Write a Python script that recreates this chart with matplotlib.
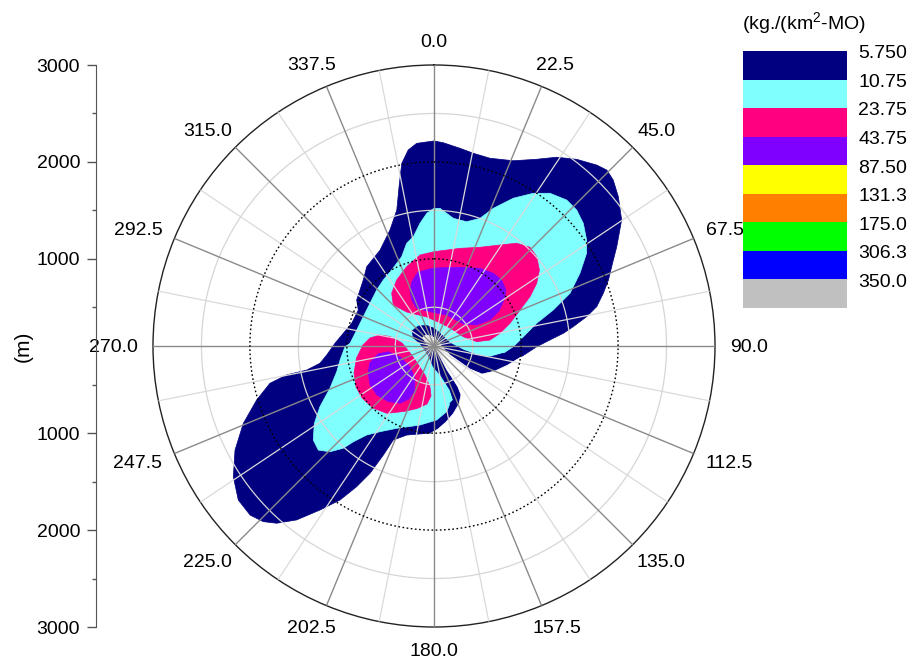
import numpy as np
import matplotlib
matplotlib.use("Agg")
import matplotlib.pyplot as plt

plt.rcParams['font.family'] = ['Liberation Sans', 'DejaVu Sans']
plt.rcParams['mathtext.fontset'] = 'custom'
plt.rcParams['mathtext.rm'] = 'Liberation Sans'
plt.rcParams['mathtext.it'] = 'Liberation Sans:italic'

# ---------------- data (bearing in degrees clockwise from N, distance in m) ----------------
navy_deg = [0, 2.6, 7.5, 11.5, 16.6, 23.2, 28.8, 33.0, 37.4, 42.0, 44.5, 47.2, 51.0, 56.1, 61.5,
            64.4, 69.3, 72.7, 76.4, 79.1, 82.1, 84.4, 87.0, 90.4, 97.2, 104.4, 112.3, 120.3, 122.6,
            121.6, 119.4, 135, 146, 151.2, 151.6, 150.1, 149.7, 151.1, 156.7, 164.4, 171, 177.2, 182,
            197, 203.4, 204.9, 206.7, 208.8, 211.4, 214.8, 218.3, 221.6, 224.2, 227.4, 231.8, 236.9,
            242.4, 247.9, 253.1, 257.2, 258.9, 259.3, 261.4, 265.2, 271.6, 278, 285.4, 295.4, 300.8,
            313, 319.7, 330.6, 339.2, 344.7, 348, 350, 352.5, 355.1]
navy_m = [2216, 2200, 2158, 2130, 2122, 2180, 2299, 2423, 2525, 2612, 2645, 2621, 2548, 2433, 2246,
          2152, 2024, 1930, 1828, 1705, 1551, 1441, 1299, 1160, 1005, 888, 780, 674, 541,
          415, 290, 100, 150, 265, 382, 493, 590, 677, 752, 829, 894, 958, 999,
          1061, 1157, 1340, 1571, 1756, 1962, 2161, 2387, 2546, 2628, 2678, 2670, 2572,
          2417, 2224, 2012, 1836, 1648, 1436, 1290, 1211, 1122, 1045, 981, 965, 1029,
          1098, 1173, 1235, 1380, 1555, 1817, 2014, 2140, 2199]

cyan_deg = [0, 2.5, 8.6, 14.7, 19.8, 23.3, 28.2, 33.0, 37.2, 42.3, 46.4, 50.6, 55.2, 58.7, 63.5,
            68.8, 73.2, 77.5, 84.1, 90.5, 96, 101.1, 101.9, 97.8, 79.4, 120, 165.9, 160, 160.3,
            164.4, 169.1, 177.9, 190, 204.4, 212.2, 217.1, 220.1, 221.6, 224.5, 228, 232.1, 237.1,
            242, 247.9, 255.2, 261.5, 269.6, 271.8, 281.7, 292.5, 303.7, 314.3, 322.5, 330.9,
            340.1, 345.1, 349.3, 353.5, 356.9]
cyan_m = [1521, 1522, 1433, 1426, 1500, 1647, 1830, 1979, 2079, 2136, 2134, 2094, 2018, 1943, 1783,
          1606, 1386, 1186, 1027, 918, 819, 689, 550, 405, 268, 100, 427, 583, 692,
          714, 790, 864, 928, 1033, 1145, 1252, 1392, 1511, 1630, 1706, 1679, 1571,
          1433, 1259, 1138, 1080, 1018, 967, 914, 890, 894, 927, 959, 998,
          1080, 1197, 1248, 1375, 1472]

pink_ne_deg = [0, 14.9, 25, 33.2, 38.8, 44.2, 49, 54.2, 58.6, 62.8, 67.3, 73.4, 79.1, 83.9, 84.2,
               72.4, 41.6, 14.6, 345.9, 321.2, 315.2, 321.3, 330.5, 341, 351.3]
pink_ne_m = [1073, 1143, 1224, 1346, 1461, 1521, 1505, 1441, 1342, 1214, 1062, 918, 794, 681, 543,
             417, 349, 346, 409, 550, 696, 798, 882, 966, 1050]

purple_ne_deg = [0, 18.3, 30.6, 39.2, 45.7, 52.1, 56.7, 61.7, 65.1, 63.8, 53.1, 22.3, 353.3, 335.3,
                 334.1, 336.8, 341.1, 347.8]
purple_ne_m = [905, 956, 1032, 1068, 1075, 1041, 965, 862, 737, 591, 478, 446, 456, 528,
               627, 729, 802, 881]

pink_sw_deg = [281.5, 282.2, 275.4, 250.8, 221.6, 197.2, 185.6, 183.4, 186.9, 195.2, 204.6, 214.9,
               224.5, 234.2, 242.3, 251.4, 261.2, 270.8, 277.1]
pink_sw_m = [669, 564, 431, 352, 349, 414, 525, 617, 703, 769, 843, 947,
             998, 1016, 1009, 971, 909, 833, 766]

purple_sw_deg = [261.9, 262.9, 252.5, 229.2, 209.9, 203.4, 205.3, 210.7, 219.7, 229.3, 238.6, 247.7, 255]
purple_sw_m = [684, 579, 467, 427, 493, 606, 705, 787, 844, 876, 873, 833, 789]

# navy band around the low-deposition gap next to the source
band_deg = [96, 101.1, 101.9, 97.8, 79.4, 16.7, 357.8, 340.4, 321.9, 304.3, 291.3, 280.9, 212.3,
            181.9, 165.9, 160, 160.3, 164.4, 165, 130, 100]
band_m = [819, 689, 550, 405, 268, 254, 286, 325, 362, 375, 327, 247, 210,
          314, 427, 583, 692, 714, 900, 900, 900]

# region below the lowest level (white gap)
gap_deg = [95, 119.4, 121.6, 122.6, 120.3, 112.3, 104.4, 97.2, 97, 130, 160, 175, 182, 177.2, 171,
           164.4, 156.7, 151.1, 149.7, 150.1, 151.6, 151.2, 146, 166, 260, 295.5, 307.6, 324,
           342.2, 7.4, 63]
gap_m = [180, 290, 415, 541, 674, 780, 888, 1005, 1300, 1300, 1050, 1100, 999, 958, 894,
         829, 752, 677, 590, 493, 382, 265, 150, 142, 142, 203, 247, 240,
         211, 180, 161]

level_labels = ['5.750', '10.75', '23.75', '43.75', '87.50', '131.3', '175.0', '306.3', '350.0']
level_colors = ['#000080', '#80FFFF', '#FF0080', '#8000FF', '#FFFF00', '#FF8000', '#00FF00',
                '#0000FF', '#C0C0C0']
theta_ticks = np.arange(0, 360, 22.5)
theta_minor = np.arange(11.25, 360, 22.5)
r_major = [1000, 2000, 3000]
r_minor = [500, 1500, 2500]
R_MIN, R_MAX = 100, 3000

# ---------------- figure ----------------
W, H = 921, 660
cx, cy, R = 434, 346, 281
fig = plt.figure(figsize=(W / 100, H / 100), dpi=100)
ax = fig.add_axes([(cx - R) / W, (H - cy - R) / H, 2 * R / W, 2 * R / H], projection='polar')
ax.set_theta_zero_location('N')
ax.set_theta_direction(-1)

def region(deg, m, color, z):
    ax.fill(np.radians(deg), m, facecolor=color, edgecolor=color, lw=0.5, zorder=z)

region(navy_deg, navy_m, level_colors[0], 1.0)
region(cyan_deg, cyan_m, level_colors[1], 1.1)
region(pink_ne_deg, pink_ne_m, level_colors[2], 1.2)
region(pink_sw_deg, pink_sw_m, level_colors[2], 1.2)
region(purple_ne_deg, purple_ne_m, level_colors[3], 1.3)
region(purple_sw_deg, purple_sw_m, level_colors[3], 1.3)
region(band_deg, band_m, level_colors[0], 1.4)
region(gap_deg, gap_m, 'white', 1.5)

# grid
for a in theta_minor:
    ax.plot([np.radians(a)] * 2, [R_MIN, R_MAX], color='#dadada', lw=0.9, zorder=3)
for a in theta_ticks:
    ax.plot([np.radians(a)] * 2, [R_MIN, R_MAX], color='#8a8a8a', lw=1.0, zorder=4)
circ = np.linspace(0, 2 * np.pi, 721)
for rr in r_minor:
    ax.plot(circ, np.full_like(circ, rr), color='#d6d6d6', lw=0.9, zorder=3)
for rr in r_major[:-1]:
    ax.plot(circ, np.full_like(circ, rr), color='black', lw=1.0, ls=(0, (1.2, 1.8)), zorder=4)

ax.set_ylim(R_MIN, R_MAX)
ax.set_yticks([])
ax.set_xticks(np.radians(theta_ticks))
ax.set_xticklabels([])
ax.set_xticks(np.radians(theta_minor), minor=True)
ax.tick_params(axis='x', which='major', length=0)
ax.tick_params(axis='x', which='minor', direction='in', length=5, width=1, color='#333333')
ax.grid(False)
ax.spines['polar'].set_color('#222222')
ax.spines['polar'].set_linewidth(1.0)

# angle labels: placed just outside the rim, offset by half their size along the direction
renderer = fig.canvas.get_renderer()
pad = 15
for a in theta_ticks:
    t = np.radians(a)
    s, c = np.sin(t), np.cos(t)
    txt = ax.annotate(f'{a:.1f}', xy=(t, R_MAX), xytext=(0, 0), textcoords='offset pixels',
                      ha='center', va='center', fontsize=14, annotation_clip=False)
    bb = txt.get_window_extent(renderer)
    w, h = bb.width, bb.height
    txt.xyann = ((pad + w / 2) * s, (pad + h / 2) * c - 1)

# left distance axis
axl = fig.add_axes([96 / W, (H - cy - R) / H, 0.0001, 2 * R / H])
axl.set_ylim(-(R_MAX - R_MIN), R_MAX - R_MIN)
for s in ['top', 'right', 'bottom']:
    axl.spines[s].set_visible(False)
axl.spines['left'].set_color('#555555')
axl.set_xticks([])
maj = [-(r - R_MIN) for r in r_major] + [(r - R_MIN) for r in r_major]
axl.set_yticks(maj)
axl.set_yticklabels([str(r) for r in r_major] + [str(r) for r in r_major])
axl.set_yticks([-(r - R_MIN) for r in r_minor] + [(r - R_MIN) for r in r_minor], minor=True)
axl.tick_params(which='major', length=6.5, width=1, color='#555555', labelsize=14, pad=5)
axl.tick_params(which='minor', length=3.2, width=1, color='#555555')
axl.set_ylabel('(m)', fontsize=15, labelpad=3)
axl.patch.set_visible(False)

# legend of levels
n = len(level_labels)
axc = fig.add_axes([743 / W, (H - 308) / H, 104 / W, 257 / H])
axc.barh(np.arange(n), 1, height=1, left=0, color=level_colors, align='edge')
axc.set_ylim(n, 0)
axc.set_xlim(0, 1)
axc.axis('off')
for i, lab in enumerate(level_labels):
    axc.text(1.11, i + 0.1, lab, ha='left', va='center', fontsize=14, clip_on=False)
fig.text(804 / W, 1 - 23 / H, '(kg./(km$^2$-MO)', ha='center', va='center', fontsize=14)

fig.savefig('out.png', dpi=100, facecolor='white')
